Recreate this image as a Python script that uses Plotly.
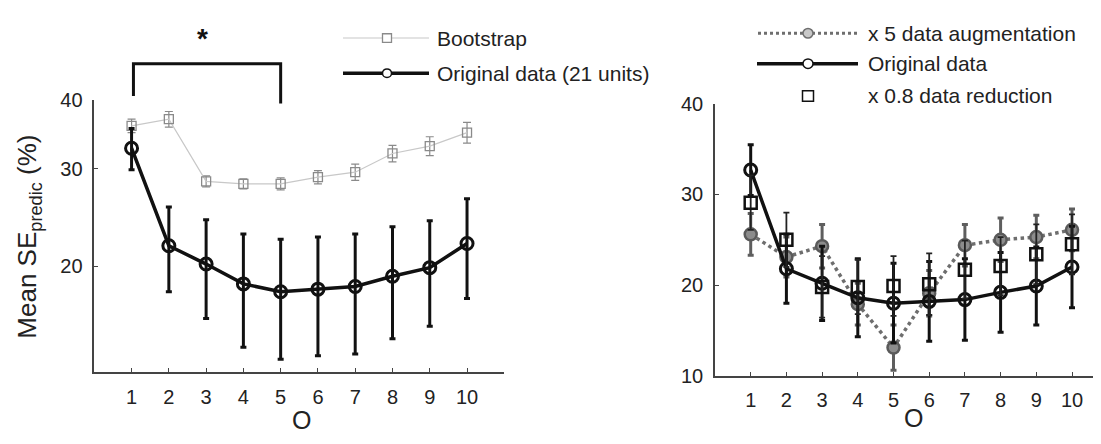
import math
import plotly.graph_objects as go

# ---------------- data ----------------
O = [1, 2, 3, 4, 5, 6, 7, 8, 9, 10]
boot_mean = [35.9, 36.9, 28.5, 28.2, 28.2, 29.0, 29.6, 32.0, 33.0, 34.9]
boot_err = [1.0, 1.2, 0.65, 0.6, 0.7, 0.8, 1.0, 1.1, 1.3, 1.5]
orig_mean = [32.7, 21.8, 20.2, 18.6, 18.0, 18.2, 18.4, 19.2, 19.9, 22.0]
orig_err = [2.8, 3.8, 4.1, 4.3, 4.4, 4.4, 4.5, 4.4, 4.3, 4.5]
aug_mean = [25.6, 23.1, 24.3, 17.9, 13.1, 19.1, 24.4, 25.0, 25.3, 26.1]
aug_err = [2.3, 2.2, 2.4, 2.3, 2.5, 2.5, 2.3, 2.4, 2.4, 2.3]
red_mean = [29.1, 25.0, 19.8, 19.8, 19.9, 20.1, 21.7, 22.1, 23.4, 24.5]
red_err = [3.0, 3.0, 3.4, 3.0, 3.3, 3.4, 3.2, 3.2, 3.3, 3.3]

left_yticks = [20, 30, 40]
right_yticks = [10, 20, 30, 40]
x_ticks = O

W, H = 1101, 444
OFF = 8  # page body margin
FONT = "Arial, Liberation Sans, sans-serif"


def px(x):
    return (x - OFF) / W


def py(y):
    return 1 - (y - OFF) / H


fig = go.Figure()

# ---------- left panel ----------
fig.add_trace(go.Scatter(
    x=O, y=boot_mean, mode="lines+markers", xaxis="x", yaxis="y",
    line=dict(color="#c8c8c8", width=1.2),
    marker=dict(symbol="square-open", size=9, color="#8a8a8a", line=dict(width=1.3)),
    error_y=dict(type="data", array=boot_err, color="#8a8a8a", thickness=1.2, width=4),
    showlegend=False))
fig.add_trace(go.Scatter(
    x=O, y=orig_mean, mode="lines+markers", xaxis="x", yaxis="y",
    line=dict(color="#111111", width=3.5),
    marker=dict(symbol="circle-open", size=12, color="#111111", line=dict(width=3)),
    error_y=dict(type="data", array=orig_err, color="#111111", thickness=3, width=3),
    showlegend=False))

# ---------- right panel ----------
fig.add_trace(go.Scatter(
    x=O, y=aug_mean, mode="lines+markers", xaxis="x2", yaxis="y2",
    line=dict(color="#6e6e6e", width=3.5, dash="dot"),
    marker=dict(symbol="circle", size=12, color="#8c8c8c", line=dict(width=2.5, color="#5a5a5a")),
    error_y=dict(type="data", array=aug_err, color="#5e5e5e", thickness=3, width=3),
    showlegend=False))
fig.add_trace(go.Scatter(
    x=O, y=orig_mean, mode="lines+markers", xaxis="x2", yaxis="y2",
    line=dict(color="#111111", width=3.5),
    marker=dict(symbol="circle-open", size=12, color="#111111", line=dict(width=3)),
    error_y=dict(type="data", array=orig_err, color="#111111", thickness=3, width=3),
    showlegend=False))
fig.add_trace(go.Scatter(
    x=O, y=red_mean, mode="markers", xaxis="x2", yaxis="y2",
    marker=dict(symbol="square-open", size=12, color="#111111", line=dict(width=2.5)),
    error_y=dict(type="data", array=red_err, color="#222222", thickness=1.8, width=3),
    showlegend=False))

axis_common = dict(
    showline=True, linecolor="#444444", linewidth=1.5, ticks="inside",
    ticklen=4, tickcolor="#444444", tickwidth=1.2, showgrid=False, zeroline=False,
    tickfont=dict(family=FONT, size=20, color="#222222"), mirror=False,
)

fig.update_layout(
    width=W, height=H, margin=dict(l=0, r=0, t=0, b=0),
    paper_bgcolor="white", plot_bgcolor="white", showlegend=False,
    xaxis=dict(domain=[px(94.3), px(504.3)], range=[0, 11], tickvals=x_ticks,
               anchor="y", ticklabelstandoff=6, **axis_common),
    yaxis=dict(domain=[py(379.3), py(93)], type="log",
               range=[math.log10(12.9), math.log10(40)], tickvals=left_yticks,
               anchor="x", ticklabelstandoff=6, **axis_common),
    xaxis2=dict(domain=[px(715), px(1107.7)], range=[0, 11], tickvals=x_ticks,
                anchor="y2", ticklabelstandoff=6, **axis_common),
    yaxis2=dict(domain=[py(383.3), py(97.3)], range=[10, 40], tickvals=right_yticks,
                anchor="x2", ticklabelstandoff=6, **axis_common),
)

shapes = []
annotations = []

# significance bracket (x in data units of left panel)
shapes.append(dict(type="path", xref="x", yref="paper",
                   path=f"M 1.05,{py(89)} L 1.05,{py(55)} L 5,{py(55)} L 5,{py(97)}",
                   line=dict(color="#111111", width=3)))
annotations.append(dict(text="<b>*</b>", x=px(202), y=py(28), xref="paper", yref="paper",
                        xanchor="center", yanchor="middle",
                        showarrow=False, font=dict(family=FONT, size=28, color="#111111")))


def leg_line(x0, x1, y, color, width, dash="solid"):
    shapes.append(dict(type="line", xref="paper", yref="paper", x0=px(x0), x1=px(x1),
                       y0=py(y), y1=py(y), line=dict(color=color, width=width, dash=dash)))


def leg_marker(kind, x, y, r, color, width, fill="white"):
    shapes.append(dict(type=kind, xref="paper", yref="paper", x0=px(x - r), x1=px(x + r),
                       y0=py(y + r), y1=py(y - r), fillcolor=fill,
                       line=dict(color=color, width=width)))


def leg_text(text, x, y):
    annotations.append(dict(text=text, x=px(x), y=py(y), xref="paper", yref="paper",
                            xanchor="left", yanchor="middle", showarrow=False,
                            font=dict(family=FONT, size=21, color="#222222")))


# left legend
leg_line(343, 429, 28, "#c8c8c8", 1.2)
leg_marker("rect", 387, 28, 4.5, "#8a8a8a", 1.3)
leg_text("Bootstrap", 435, 28)
leg_line(343, 429, 65, "#111111", 3.5)
leg_marker("circle", 387, 65, 4.5, "#111111", 1.5)
leg_text("Original data (21 units)", 435, 65)

# right legend
leg_line(758, 858, 23, "#6e6e6e", 3, "dot")
leg_marker("circle", 808, 23, 5, "#6e6e6e", 1.5, "#c8c8c8")
leg_text("x 5 data augmentation", 866, 23)
leg_line(757, 858, 55, "#111111", 3.5)
leg_marker("circle", 808, 55, 5, "#111111", 1.5)
leg_text("Original data", 866, 55)
leg_marker("rect", 808, 89, 5.5, "#111111", 1.5)
leg_text("x 0.8 data reduction", 866, 89)

# axis titles
annotations.append(dict(text="Mean SE<sub>predic</sub> (%)", x=px(29), y=py(237),
                        xref="paper", yref="paper", textangle=-90, showarrow=False,
                        xanchor="center", yanchor="middle",
                        font=dict(family=FONT, size=26, color="#222222")))
annotations.append(dict(text="O", x=px(301), y=py(430), xref="paper", yref="paper",
                        xanchor="center", yanchor="middle",
                        showarrow=False, font=dict(family=FONT, size=25, color="#222222")))
annotations.append(dict(text="O", x=px(913), y=py(428), xref="paper", yref="paper",
                        xanchor="center", yanchor="middle",
                        showarrow=False, font=dict(family=FONT, size=25, color="#222222")))

fig.update_layout(shapes=shapes, annotations=annotations)
fig.write_html("out.html")
